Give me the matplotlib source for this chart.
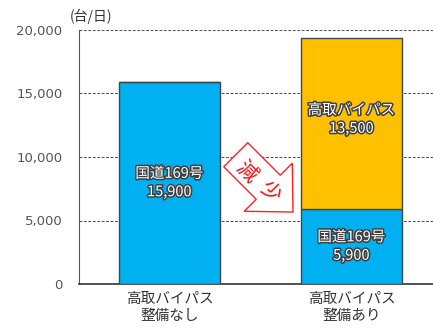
import matplotlib
matplotlib.use("Agg")
import matplotlib.pyplot as plt
import matplotlib.patheffects as pe
from matplotlib.patches import Polygon
import numpy as np

plt.rcParams['font.family'] = ['Noto Sans CJK JP', 'DejaVu Sans']

categories = ["高取バイパス\n整備なし", "高取バイパス\n整備あり"]
route169 = [15900, 5900]
bypass = [0, 13500]
yticks = [0, 5000, 10000, 15000, 20000]
ytick_labels = ["0", "5,000", "10,000", "15,000", "20,000"]
unit_label = "(台/日)"
seg_label_169 = "国道169号"
seg_label_bp = "高取バイパス"
arrow_text = "減少"

W, H = 433, 331
fig = plt.figure(figsize=(W / 100, H / 100), dpi=100)
ax = fig.add_axes([79 / W, 1 - 284 / H, (433 - 79) / W, (284 - 30) / H])

blue = "#00B0F0"
orange = "#FFC000"
edge = "#3a4a50"
x = np.arange(len(categories))
width = 0.555

ax.bar(x, route169, width, color=blue, edgecolor=edge, linewidth=1.0, zorder=3)
ax.bar(x, bypass, width, bottom=route169, color=orange, edgecolor=edge, linewidth=1.0, zorder=3)

ax.set_xlim(-0.497, 1.448)
ax.set_ylim(0, 20000)
ax.set_yticks(yticks)
ax.set_yticklabels(ytick_labels, fontsize=9.5, color="#555555", family="DejaVu Sans")
ax.set_xticks(x)
ax.set_xticklabels(categories, fontsize=10.5, color="#333333", linespacing=1.25)
ax.tick_params(axis="y", length=0, pad=12)
ax.tick_params(axis="x", length=0, pad=6)

for yv in yticks[1:]:
    ax.axhline(yv, color="#555555", linestyle=(0, (2.5, 1.5)), linewidth=0.8, zorder=1)

for s in ["top", "right"]:
    ax.spines[s].set_visible(False)
ax.spines["left"].set_color("#555555")
ax.spines["bottom"].set_color("#333333")
ax.spines["bottom"].set_linewidth(1.2)

stroke = [pe.withStroke(linewidth=2.2, foreground="#404040")]
for i in range(len(categories)):
    ax.text(x[i], route169[i] / 2, f"{seg_label_169}\n{route169[i]:,}", ha="center", va="center",
            color="white", fontsize=10.5, linespacing=1.4, path_effects=stroke, zorder=5)
    if bypass[i] > 0:
        ax.text(x[i], route169[i] + bypass[i] / 2 + 300, f"{seg_label_bp}\n{bypass[i]:,}", ha="center", va="center",
                color="white", fontsize=10.5, linespacing=1.4, path_effects=stroke, zorder=5)

fig.text(70 / W, 1 - 16 / H, unit_label, fontsize=10, color="#333333", va="center", ha="left")

# Arrow (pixel geometry, y-down)
u = np.array([1, 1]) / np.sqrt(2)
n = np.array([1, -1]) / np.sqrt(2)
tip = np.array([293.0, 212.0])
head_len = 35
head_half = 34
shaft_half = 17
shaft_len = 46
base = tip - u * head_len
start = base - u * shaft_len
pts = [start + n * shaft_half, base + n * shaft_half, base + n * head_half, tip,
       base - n * head_half, base - n * shaft_half, start - n * shaft_half]
pts_fig = [(p[0] / W, 1 - p[1] / H) for p in pts]
fig.patches.append(Polygon(pts_fig, closed=True, facecolor="white", edgecolor="#ff2020",
                           linewidth=1.0, transform=fig.transFigure, zorder=6))
char_pos = [(246.5, 172.0), (268.5, 192.0)]
for ch, (px, py) in zip(arrow_text, char_pos):
    fig.text(px / W, 1 - py / H, ch, rotation=-45, color="#ee1111", fontsize=15,
             ha="center", va="center", rotation_mode="anchor", zorder=7)

fig.savefig("out.png", dpi=100)
